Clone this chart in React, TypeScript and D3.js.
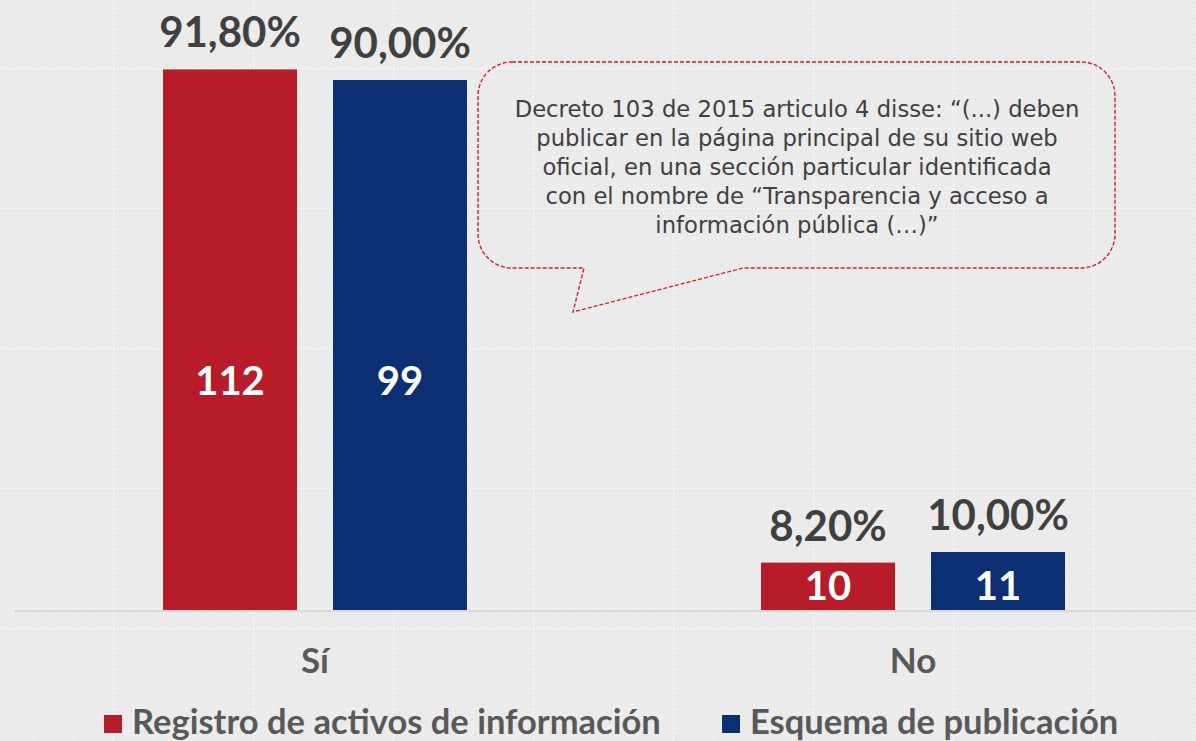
import React from "react";
import * as d3 from "d3";

const categories = ["Sí", "No"];
const seriesNames = ["Registro de activos de información", "Esquema de publicación"];
const registroCounts = [112, 10];
const registroPct = [91.8, 8.2];
const esquemaCounts = [99, 11];
const esquemaPct = [90.0, 10.0];
const calloutLines = [
  "Decreto 103 de 2015 articulo 4 disse: “(...)  deben",
  "publicar en la página principal de su sitio web",
  "oficial, en una sección particular identificada",
  "con el nombre de “Transparencia y acceso a",
  "información pública (…)”",
];

const colors = { red: "#b71c2a", blue: "#0c2f74", bg: "#ebebeb", dark: "#404040", grey: "#595959" };
const width = 1196;
const height = 741;
const baseY = 611;
// level (in %) where the count labels sit inside the bars
const countLabelLevel = [39, 4.3];

const fmtPct = (v: number) => d3.format(".2f")(v).replace(".", ",") + "%";

function App() {
  const y = d3.scaleLinear().domain([0, 100]).range([baseY, 21]);
  const x0 = d3.scaleBand<string>().domain(categories).range([16, 1212]).padding(0);
  const x1 = d3
    .scaleBand<string>()
    .domain(seriesNames)
    .range([-152, 152])
    .paddingInner(0.2118)
    .paddingOuter(0);
  const color = d3.scaleOrdinal<string, string>().domain(seriesNames).range([colors.red, colors.blue]);

  const bars = categories.flatMap((c, i) => [
    { cat: c, i, series: seriesNames[0], count: registroCounts[i], pct: registroPct[i] },
    { cat: c, i, series: seriesNames[1], count: esquemaCounts[i], pct: esquemaPct[i] },
  ]);

  const bx = (c: string, s: string) => x0(c)! + x0.bandwidth() / 2 + x1(s)!;

  // callout balloon
  const cl = 478, cr = 1115, ct = 62, cb = 268, r = 34;
  const calloutPath = [
    `M${cl + r},${ct}`,
    `H${cr - r}`,
    `A${r},${r} 0 0 1 ${cr},${ct + r}`,
    `V${cb - r}`,
    `A${r},${r} 0 0 1 ${cr - r},${cb}`,
    `H743 L573,312 L584,${cb}`,
    `H${cl + r}`,
    `A${r},${r} 0 0 1 ${cl},${cb - r}`,
    `V${ct + r}`,
    `A${r},${r} 0 0 1 ${cl + r},${ct}`,
    "Z",
  ].join(" ");

  const minor = d3.range(0, 140, 20);
  const legendX = [104, 722];

  return (
    <svg
      width={width}
      height={height}
      style={{ position: "absolute", left: 0, top: 0, fontFamily: "Lato, sans-serif" }}
    >
      <defs>
        <pattern id="tex" patternUnits="userSpaceOnUse" x={113} y={68} width={140} height={140}>
          <rect width={140} height={140} fill={colors.bg} />
          {minor.map((m) => (
            <g key={m} stroke="#ffffff" strokeDasharray="2,2" strokeWidth={1}>
              <line x1={m + 0.5} x2={m + 0.5} y1={0} y2={140} strokeOpacity={m === 0 ? 0.8 : 0.35} />
              <line y1={m + 0.5} y2={m + 0.5} x1={0} x2={140} strokeOpacity={m === 0 ? 0.8 : 0.35} />
            </g>
          ))}
        </pattern>
      </defs>
      <rect width={width} height={height} fill="url(#tex)" />

      {bars.map((d) => (
        <rect
          key={d.cat + d.series}
          x={bx(d.cat, d.series)}
          y={y(d.pct)}
          width={x1.bandwidth()}
          height={baseY - y(d.pct)}
          fill={color(d.series)}
        />
      ))}

      <line x1={14} x2={width} y1={baseY} y2={baseY} stroke="#d9d9d9" strokeWidth={2} />

      {bars.map((d) => (
        <text
          key={"p" + d.cat + d.series}
          x={bx(d.cat, d.series) + x1.bandwidth() / 2}
          y={y(d.pct) - 22}
          textAnchor="middle"
          fontSize={42}
          fontWeight="bold"
          fill={colors.dark}
        >
          {fmtPct(d.pct)}
        </text>
      ))}

      {bars.map((d) => (
        <text
          key={"c" + d.cat + d.series}
          x={bx(d.cat, d.series) + x1.bandwidth() / 2}
          y={y(countLabelLevel[d.i]) + 14}
          textAnchor="middle"
          fontSize={40}
          fontWeight="bold"
          fill="#ffffff"
        >
          {d.count}
        </text>
      ))}

      {categories.map((c) => (
        <text
          key={c}
          x={x0(c)! + x0.bandwidth() / 2}
          y={673}
          textAnchor="middle"
          fontSize={35}
          fontWeight="bold"
          fill={colors.grey}
        >
          {c}
        </text>
      ))}

      {/* legend */}
      {seriesNames.map((s, i) => (
        <g key={s}>
          <rect x={legendX[i]} y={715} width={18} height={18} fill={color(s)} />
          <text x={legendX[i] + 28} y={734} fontSize={34.5} fontWeight="bold" fill={colors.grey}>
            {s}
          </text>
        </g>
      ))}

      <path d={calloutPath} fill="none" stroke="#d0202c" strokeWidth={1.4} strokeDasharray="4,2" />
      {calloutLines.map((t, i) => (
        <text
          key={i}
          x={797}
          y={117 + i * 29}
          textAnchor="middle"
          fontSize={22.7}
          fontFamily="'DejaVu Sans', sans-serif"
          fill={colors.dark}
        >
          {t}
        </text>
      ))}
    </svg>
  );
}

export default App;
